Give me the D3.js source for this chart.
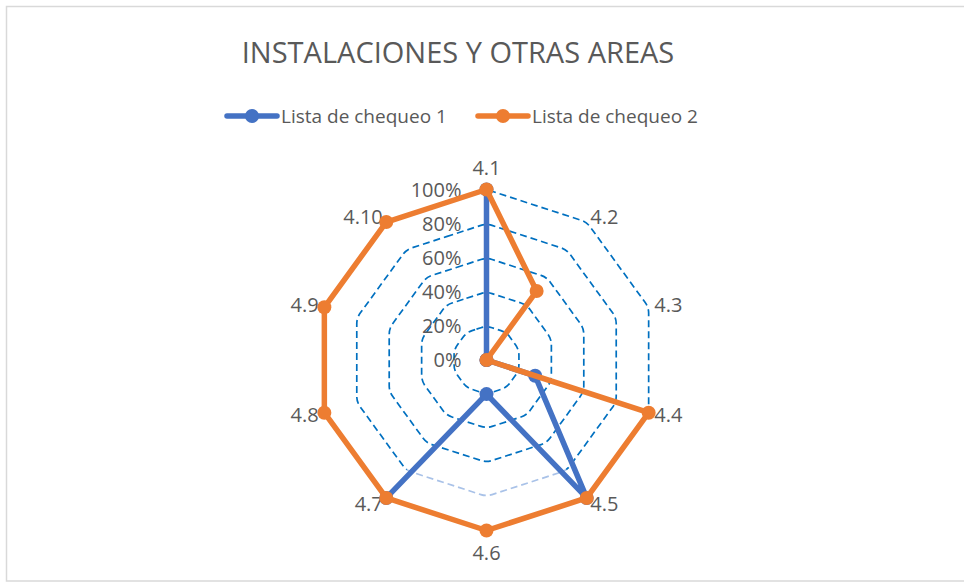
<!DOCTYPE html>
<html>
<head>
<meta charset="utf-8">
<script src="https://cdn.jsdelivr.net/npm/d3@7"></script>
<style>
    body { margin: 0; background: #fff; }
    svg text { font-family: "Open Sans", sans-serif; fill: #595959; }
</style>
</head>
<body>
<svg id="chart" width="964" height="583"></svg>
<script>
const categories = ['4.1', '4.2', '4.3', '4.4', '4.5', '4.6', '4.7', '4.8', '4.9', '4.10'];
const lista1 = [1, 0, 0, 0.3, 1, 0.2, 1, null, null, null];
const lista2 = [1, 0.5, 0, 1, 1, 1, 1, 1, 1, 1];
const tickValues = [0, 0.2, 0.4, 0.6, 0.8, 1];
const seriesNames = ['Lista de chequeo 1', 'Lista de chequeo 2'];

const colors = ['#4472C4', '#ED7D31'];
const gridColor = '#0070C0';
const gridLight = '#A9C2E8';

const svg = d3.select('#chart');
const cx = 486.5, cy = 360, R = 170.5;
const n = categories.length;

const r = d3.scaleLinear().domain([0, 1]).range([0, R]);
const angle = d3.scaleLinear().domain([0, n]).range([0, 2 * Math.PI]);

// chart border (cut off on the right like the source)
svg.append('rect')
    .attr('x', 6.5).attr('y', 6.5)
    .attr('width', 980).attr('height', 574.5)
    .attr('fill', '#fff')
    .attr('stroke', '#D9D9D9')
    .attr('stroke-width', 1.5);

svg.append('text')
    .attr('x', 458).attr('y', 63)
    .attr('text-anchor', 'middle')
    .style('font-size', '29px')
    .text('INSTALACIONES Y OTRAS AREAS');

// legend
const legendX = [227, 478];
seriesNames.forEach((name, i) => {
    const g = svg.append('g').attr('transform', 'translate(' + legendX[i] + ',116)');
    g.append('line')
        .attr('x1', 0).attr('x2', 50)
        .attr('stroke', colors[i])
        .attr('stroke-width', 5.5)
        .attr('stroke-linecap', 'round');
    g.append('circle').attr('cx', 25).attr('r', 7).attr('fill', colors[i]);
    g.append('text')
        .attr('x', 54).attr('y', 6.5)
        .style('font-size', '19px')
        .text(name);
});

const plot = svg.append('g').attr('transform', 'translate(' + cx + ',' + cy + ')');

const pt = (i, v) => [r(v) * Math.sin(angle(i)), -r(v) * Math.cos(angle(i))];

// decagon with rounded corners
const ringPath = (v) => {
    const p = d3.path();
    const pts = d3.range(n).map(i => pt(i, v));
    const rad = 18;
    const mid = (a, b) => [(a[0] + b[0]) / 2, (a[1] + b[1]) / 2];
    const start = mid(pts[n - 1], pts[0]);
    p.moveTo(start[0], start[1]);
    pts.forEach((q, i) => {
        const nx = pts[(i + 1) % n];
        const m = mid(q, nx);
        p.arcTo(q[0], q[1], m[0], m[1], rad);
    });
    p.closePath();
    return p.toString();
};

// clip regions: lighter part of the outer rings between 4.5 and 4.7
const defs = svg.append('defs');
const far = 400;
const wedge = (from, to) => {
    const pts = [[0, 0]];
    for (let i = from; i <= to; i++) {
        const a = angle(i);
        pts.push([far * Math.sin(a), -far * Math.cos(a)]);
    }
    return pts.map(p => p.join(',')).join(' ');
};
defs.append('clipPath').attr('id', 'clip-light')
    .append('polygon').attr('points', wedge(4, 6));
defs.append('clipPath').attr('id', 'clip-dark')
    .append('polygon').attr('points', wedge(6, 14));

const grid = plot.append('g')
    .attr('fill', 'none')
    .attr('stroke-width', 1.7)
    .attr('stroke-dasharray', '7,4');

tickValues.filter(t => t > 0).forEach(t => {
    if (t >= 0.8) {
        grid.append('path').attr('d', ringPath(t)).attr('stroke', gridColor).attr('clip-path', 'url(#clip-dark)');
        grid.append('path').attr('d', ringPath(t)).attr('stroke', gridLight).attr('clip-path', 'url(#clip-light)');
    } else {
        grid.append('path').attr('d', ringPath(t)).attr('stroke', gridColor);
    }
});

// tick labels along the first axis
plot.selectAll('.tick-label')
    .data(tickValues)
    .enter()
    .append('text')
    .attr('class', 'tick-label')
    .attr('x', -25)
    .attr('y', d => -r(d))
    .attr('dy', '0.36em')
    .attr('text-anchor', 'end')
    .style('font-size', '20px')
    .text(d => d3.format('.0%')(d));

// category labels
plot.selectAll('.cat-label')
    .data(categories)
    .enter()
    .append('text')
    .attr('class', 'cat-label')
    .attr('x', (d, i) => pt(i, 1)[0] + Math.sin(angle(i)) * 6)
    .attr('y', (d, i) => {
        const c = Math.cos(angle(i));
        const off = Math.abs(Math.sin(angle(i))) < 0.1 ? 22 : 7;
        return pt(i, 1)[1] - c * off;
    })
    .attr('dy', '0.36em')
    .attr('text-anchor', (d, i) => {
        const s = Math.sin(angle(i));
        return Math.abs(s) < 0.1 ? 'middle' : s > 0 ? 'start' : 'end';
    })
    .style('font-size', '20px')
    .text(d => d);

// series
const line = d3.lineRadial()
    .angle(d => angle(d.i))
    .radius(d => r(d.v))
    .defined(d => d.v != null);

[lista1, lista2].forEach((values, s) => {
    const pts = values.map((v, i) => ({i, v}));
    const closed = pts.concat([{i: n, v: values[0]}]);
    const g = plot.append('g');
    g.append('path')
        .datum(closed)
        .attr('d', line)
        .attr('fill', 'none')
        .attr('stroke', colors[s])
        .attr('stroke-width', 5.5)
        .attr('stroke-linejoin', 'round')
        .attr('stroke-linecap', 'round');
    g.selectAll('circle')
        .data(pts.filter(d => d.v != null))
        .enter()
        .append('circle')
        .attr('cx', d => pt(d.i, d.v)[0])
        .attr('cy', d => pt(d.i, d.v)[1])
        .attr('r', 7)
        .attr('fill', colors[s]);
});
</script>
</body>
</html>
